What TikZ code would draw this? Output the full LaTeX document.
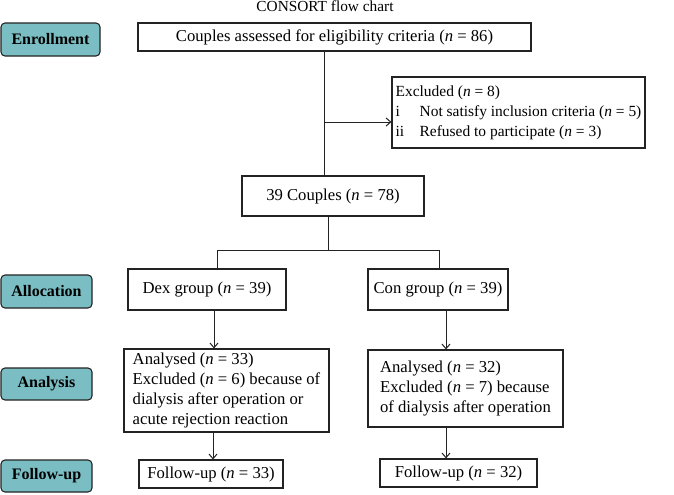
\documentclass[tikz,border=0pt]{standalone}
\usepackage{fontspec}
\setmainfont{Liberation Serif}
\usetikzlibrary{arrows.meta}
\definecolor{teal1}{RGB}{122,190,196}
\definecolor{edge}{RGB}{35,35,35}
\begin{document}
\begin{tikzpicture}[x=0.75pt,y=-0.75pt,
  every node/.style={font=\fontsize{12.5}{15}\selectfont},
  box/.style 2 args={draw=edge,line width=0.8pt,inner sep=0pt,minimum width=#1*0.75pt,minimum height=#2*0.75pt},
  lbox/.style 2 args={draw=edge,line width=0.8pt,inner sep=0pt,align=left,minimum width=#1*0.75pt,minimum height=#2*0.75pt},
  stage/.style 2 args={draw=edge,fill=teal1,rounded corners=3pt,line width=0.8pt,inner sep=0pt,minimum width=#1*0.75pt,minimum height=#2*0.75pt,font=\fontsize{12}{14}\selectfont\bfseries},
  conn/.style={draw=edge,line width=0.75pt},
  arr/.style={conn,-{Straight Barb[length=3.5pt,width=6pt]}}]
\useasboundingbox (0,0) rectangle (674,494);
\node[anchor=base] (title) at (325,11) {\fontsize{11.5}{13}\selectfont CONSORT flow chart};
% stage labels
\node[stage={99}{33}] (enr) at (50.5,39.5) {Enrollment};
\node[stage={91}{33}] (all) at (46.5,291.5) {Allocation};
\node[stage={91}{32}] (ana) at (46.5,384) {Analysis};
\node[stage={91}{32}] (fol) at (46.5,476) {Follow-up};
% boxes
\node[box={393}{28}] (top) at (334.5,37) {Couples assessed for eligibility criteria (\textit{n} = 86)};
\node[lbox={253}{71},font=\fontsize{11.6}{15}\selectfont] (excl) at (518.5,112.5) {Excluded (\textit{n} = 8)\\\makebox[18pt][l]{i}Not satisfy inclusion criteria (\textit{n} = 5)\\\makebox[18pt][l]{ii}Refused to participate (\textit{n} = 3)};
\node[box={182}{40}] (c39) at (333,196) {39 Couples (\textit{n} = 78)};
\node[box={158}{41}] (dex) at (207,289.5) {Dex group (\textit{n} = 39)};
\node[box={140}{41}] (con) at (438,289.5) {Con group (\textit{n} = 39)};
\node[lbox={205}{83}] (anL) at (226.5,390.5) {Analysed (\textit{n} = 33)\\Excluded (\textit{n} = 6) because of\\dialysis after operation or\\acute rejection reaction};
\node[lbox={195}{77}] (anR) at (465.5,388.5) {Analysed (\textit{n} = 32)\\Excluded (\textit{n} = 7) because\\of dialysis after operation};
\node[box={144}{28}] (fuL) at (211,474) {Follow-up (\textit{n} = 33)};
\node[box={157}{28}] (fuR) at (458.5,473) {Follow-up (\textit{n} = 32)};
% junctions
\coordinate (j1) at (324,122);
\coordinate (s) at (328,250);
\coordinate (bl) at (217,250);
\coordinate (br) at (439,250);
\coordinate (xa) at (214,0);
\coordinate (xb) at (446,0);
\coordinate (xc) at (213,0);
% connectors
\draw[conn] (top.south -| j1) -- (c39.north -| j1);
\draw[arr] (j1) -- (j1 -| excl.west);
\draw[conn] (c39.south -| s) -- (s);
\draw[conn] (dex.north -| bl) -- (bl) -- (br) -- (con.north -| br);
\draw[arr] (dex.south -| xa) -- (anL.north -| xa);
\draw[arr] (con.south -| xb) -- (anR.north -| xb);
\draw[arr] (anL.south -| xc) -- (fuL.north -| xc);
\draw[arr] (anR.south -| xb) -- (fuR.north -| xb);
\end{tikzpicture}
\end{document}
